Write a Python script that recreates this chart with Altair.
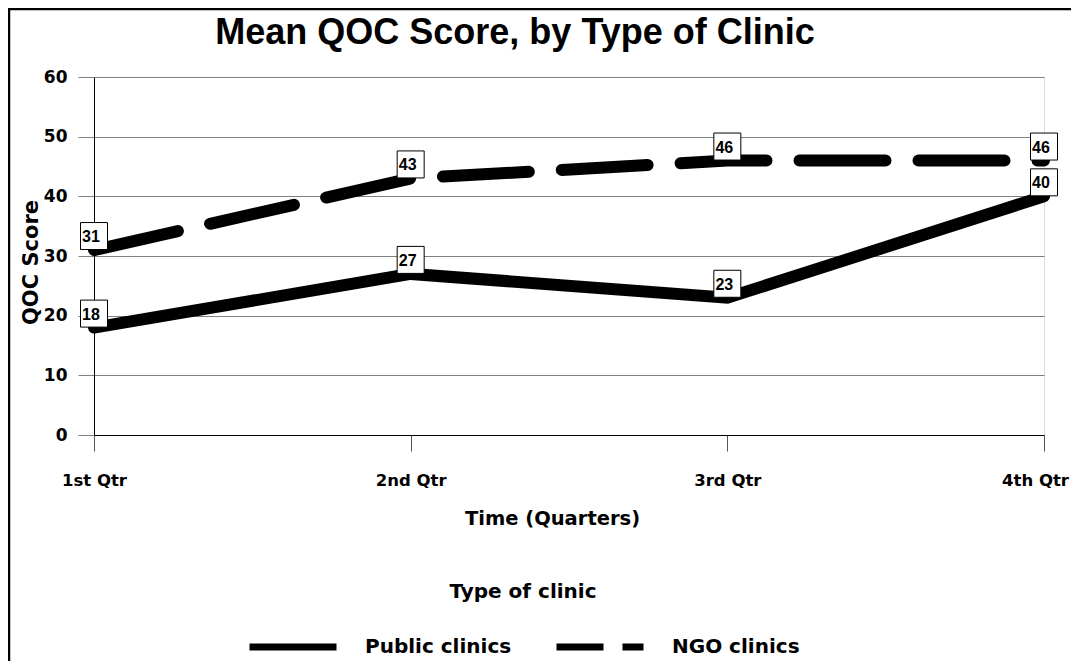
import altair as alt
import pandas as pd

quarters = ["1st Qtr", "2nd Qtr", "3rd Qtr", "4th Qtr"]
public_scores = [18, 27, 23, 40]
ngo_scores = [31, 43, 46, 46]
series_names = ["Public clinics", "NGO clinics"]
y_ticks = [0, 10, 20, 30, 40, 50, 60]

rows = []
for q, v in zip(quarters, public_scores):
    rows.append({"quarter": q, "score": v, "clinic": series_names[0]})
for q, v in zip(quarters, ngo_scores):
    rows.append({"quarter": q, "score": v, "clinic": series_names[1]})
df = pd.DataFrame(rows)

AX_FONT = "DejaVu Sans"
LB_FONT = "Liberation Sans"

x_enc = alt.X(
    "quarter:N",
    sort=quarters,
    scale=alt.Scale(type="point", domain=quarters, padding=0),
    axis=alt.Axis(
        title="Time (Quarters)",
        labelAngle=0,
        grid=False,
        domainColor="black",
        domainWidth=1,
        tickColor="#555555",
        tickSize=16,
        labelFont=AX_FONT,
        labelFontSize=16.5,
        labelFontWeight="bold",
        labelColor="black",
        labelPadding=21,
        labelOffset={"condition": {"test": "datum.label == '4th Qtr'", "value": -9}, "value": 0},
        titleFont=AX_FONT,
        titleFontSize=19.5,
        titleFontWeight="bold",
        titleColor="black",
        titleX=458,
        titleY=89,
        titleBaseline="alphabetic",
        titleAlign="center",
    ),
)

y_enc = alt.Y(
    "score:Q",
    scale=alt.Scale(domain=[0, 60], nice=False, zero=True),
    axis=alt.Axis(
        values=y_ticks,
        title="QOC Score",
        grid=True,
        gridColor="#808080",
        gridWidth=1,
        domainColor="black",
        domainWidth=1,
        tickColor="#808080",
        tickSize=16,
        labelFont=AX_FONT,
        labelFontSize=17,
        labelFontWeight="bold",
        labelColor="black",
        labelPadding=11,
        titleFont=AX_FONT,
        titleFontSize=21,
        titleFontWeight="bold",
        titleColor="black",
        titleX=-63,
        titleY=185,
        titleAngle=270,
        titleAlign="center",
        titleBaseline="middle",
    ),
)

frame_df = pd.DataFrame({"k": [0]})
frame_left = alt.Chart(frame_df).mark_rule(color="black", strokeWidth=2.5).encode(
    x=alt.value(-85), y=alt.value(-69), y2=alt.value(600)
)
frame_top = alt.Chart(frame_df).mark_rule(color="black", strokeWidth=2.5).encode(
    x=alt.value(-86), x2=alt.value(990), y=alt.value(-68)
)

base = alt.Chart(df)

public_line = base.transform_filter(alt.datum.clinic == series_names[0]).mark_line(
    color="black", strokeWidth=12, strokeCap="round"
).encode(x=x_enc, y=y_enc)

ngo_line = base.transform_filter(alt.datum.clinic == series_names[1]).mark_line(
    color="black", strokeWidth=12, strokeCap="round", strokeDash=[86, 33]
).encode(x=x_enc, y=y_enc)

legend_layer = base.transform_filter("false").mark_line(
    color="black", strokeWidth=7, strokeCap="round"
).encode(
    x=x_enc,
    y=y_enc,
    strokeDash=alt.StrokeDash(
        "clinic:N",
        scale=alt.Scale(domain=series_names, range=[[1, 0], [47, 19]]),
        legend=alt.Legend(
            orient="none",
            legendX=152,
            legendY=505,
            direction="horizontal",
            title="Type of clinic",
            titleFont=AX_FONT,
            titleFontSize=20,
            titleFontWeight="bold",
            titleColor="black",
            titleAnchor="middle",
            titleAlign="center",
            titlePadding=-2,
            labelFont=AX_FONT,
            labelFontSize=20,
            labelFontWeight="bold",
            labelColor="black",
            labelLimit=400,
            labelOffset=25,
            columnPadding=30,
            symbolType="stroke",
            symbolSize=7569,
            symbolStrokeWidth=7,
            symbolStrokeColor="black",
        ),
    ),
)

boxes = base.mark_square(
    size=729, filled=True, fill="white", stroke="black", strokeWidth=1, opacity=1, yOffset=-14
).encode(x=x_enc, y=y_enc)

labels = base.mark_text(
    font=LB_FONT, fontSize=16, fontWeight="bold", color="black",
    align="center", baseline="middle", yOffset=-13, dx=-3
).encode(x=x_enc, y=y_enc, text="score:Q")

chart = alt.layer(
    frame_left, frame_top, public_line, ngo_line, legend_layer, boxes, labels
).resolve_scale(strokeDash="independent").properties(
    width=950,
    height=358,
    autosize=alt.AutoSizeParams(type="none"),
    padding={"left": 86, "top": 69, "right": 27, "bottom": 226},
    title=alt.TitleParams(
        "Mean QOC Score, by Type of Clinic",
        font=LB_FONT,
        fontSize=36,
        fontWeight="bold",
        color="black",
        anchor="middle",
        frame="group",
        dx=-54,
        offset=-73,
        baseline="alphabetic",
    ),
).configure_view(strokeWidth=0).configure(background="white")

chart.save("out.html", embed_options={"renderer": "svg", "actions": False})
